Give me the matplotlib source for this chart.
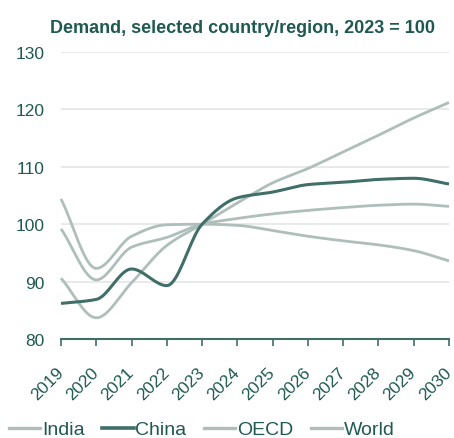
import numpy as np
import matplotlib
matplotlib.use("Agg")
import matplotlib.pyplot as plt
from matplotlib.lines import Line2D

years = [2019, 2020, 2021, 2022, 2023, 2024, 2025, 2026, 2027, 2028, 2029, 2030]
india = [90.6, 83.7, 89.8, 96.3, 100, 103.7, 107.2, 109.7, 112.6, 115.5, 118.5, 121.2]
china = [86.2, 86.9, 92.2, 89.3, 100, 104.6, 105.6, 106.9, 107.3, 107.8, 108.0, 107.0]
oecd = [104.4, 92.3, 97.9, 99.9, 100, 99.8, 98.9, 97.9, 97.1, 96.4, 95.4, 93.6]
world = [99.2, 90.3, 96.0, 97.7, 100, 101.0, 101.8, 102.4, 102.9, 103.3, 103.5, 103.1]

series_names = ["India", "China", "OECD", "World"]
series_vals = [india, china, oecd, world]

light = "#aebfbb"
dark = "#3f6f68"
text_col = "#1f5a52"
colors = [light, dark, light, light]
widths = [2.0, 2.2, 2.0, 2.0]


def monotone(x, y, n=20):
    # monotone cubic curve through the points (drawing only, like curveMonotoneX)
    x = np.asarray(x, float)
    y = np.asarray(y, float)
    h = np.diff(x)
    d = np.diff(y) / h
    m = np.zeros_like(y)
    m[0], m[-1] = d[0], d[-1]
    for i in range(1, len(y) - 1):
        if d[i - 1] * d[i] <= 0:
            m[i] = 0
        else:
            m[i] = 3 * (h[i - 1] + h[i]) / ((2 * h[i] + h[i - 1]) / d[i - 1] + (h[i] + 2 * h[i - 1]) / d[i])
    xs, ys = [], []
    for i in range(len(x) - 1):
        t = np.linspace(0, 1, n, endpoint=False)
        h00 = 2 * t**3 - 3 * t**2 + 1
        h10 = t**3 - 2 * t**2 + t
        h01 = -2 * t**3 + 3 * t**2
        h11 = t**3 - t**2
        xs.append(x[i] + t * h[i])
        ys.append(h00 * y[i] + h10 * h[i] * m[i] + h01 * y[i + 1] + h11 * h[i] * m[i + 1])
    xs.append([x[-1]])
    ys.append([y[-1]])
    return np.concatenate(xs), np.concatenate(ys)


plt.rcParams["font.family"] = ["Liberation Sans", "DejaVu Sans"]

fig = plt.figure(figsize=(4.54, 4.39), dpi=100)
ax = fig.add_axes([0.1344, 0.2255, 0.8546, 0.6538])

# draw light lines first, China on top
order = [2, 3, 0, 1]
for i in order:
    xs, ys = monotone(years, series_vals[i])
    ax.plot(xs, ys, color=colors[i], lw=widths[i], solid_capstyle="butt", clip_on=False, zorder=3)

ax.set_xlim(2019, 2030)
ax.set_ylim(80, 130)
ax.set_yticks([80, 90, 100, 110, 120, 130])
ax.set_xticks(years)
ax.set_xticklabels([str(y) for y in years], rotation=45, ha="right", va="center",
                   rotation_mode="anchor", fontsize=12.5, color=text_col)
ax.tick_params(axis="y", length=0, labelsize=12.5, labelcolor=text_col, pad=12)
ax.tick_params(axis="x", length=5, width=1.2, color=dark, pad=17)
ax.grid(axis="y", color="#e3e6e5", lw=1.2, zorder=0)
for s in ["top", "right", "left"]:
    ax.spines[s].set_visible(False)
ax.spines["bottom"].set_color(dark)
ax.spines["bottom"].set_linewidth(1.5)
ax.spines["bottom"].set_zorder(4)

fig.text(0.535, 0.935, "Demand, selected country/region, 2023 = 100", ha="center", va="center",
         fontsize=13, fontweight="bold", color=text_col)

handles = [Line2D([], [], color=colors[i], lw=widths[i] + 0.4) for i in range(4)]
fig.legend(handles, series_names, loc="center", bbox_to_anchor=(0.445, 0.019), ncol=4, frameon=False,
           fontsize=14, labelcolor=text_col, handlelength=1.6, handletextpad=0.1, columnspacing=0.9,
           borderpad=0)

fig.savefig("out.png", dpi=100, facecolor="white")
